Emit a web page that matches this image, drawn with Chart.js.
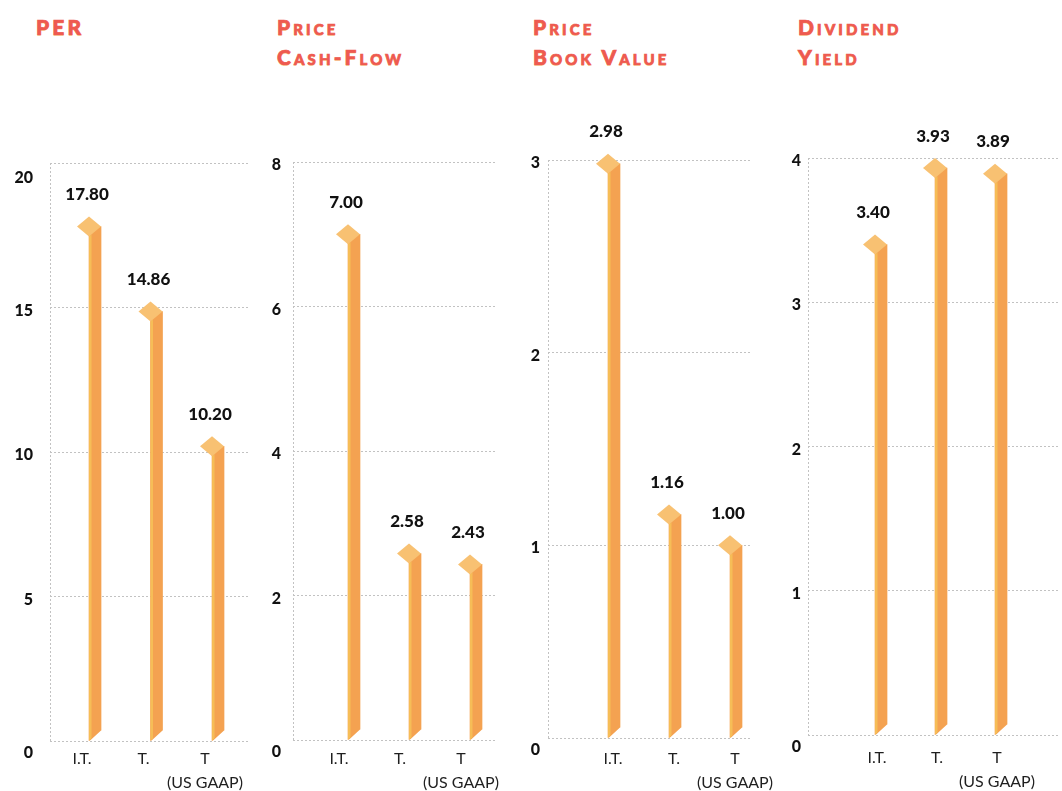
<!DOCTYPE html>
<html>
<head>
<meta charset="utf-8">
<script src="https://cdn.jsdelivr.net/npm/chart.js@4.4.1/dist/chart.umd.min.js"></script>
<style>
  html, body { margin: 0; padding: 0; background: #ffffff; }
  #wrap { position: relative; width: 1062px; height: 791px; overflow: hidden; background: #ffffff; }
  #wrap canvas { position: absolute; top: 0; }
  .title {
    position: absolute; top: 12px;
    font-family: Lato, "Open Sans", sans-serif; font-weight: 900;
    font-size: 21px; line-height: 30px; letter-spacing: 3.1px;
    font-variant: small-caps; color: #ee5a50;
    -webkit-text-stroke: 0.7px #ee5a50;
    text-shadow: 0 1px 0 rgba(247, 196, 90, 0.55);
    white-space: nowrap;
  }
</style>
</head>
<body>
<div id="wrap">
  <div class="title" style="left:36px">PER</div>
  <div class="title" style="left:277px">Price<br>Cash-Flow</div>
  <div class="title" style="left:533px">Price<br>Book Value</div>
  <div class="title" style="left:798px">Dividend<br>Yield</div>
  <canvas id="perChart" width="262" height="791" style="left:0px"></canvas>
  <canvas id="cashFlowChart" width="250" height="791" style="left:262px"></canvas>
  <canvas id="bookValueChart" width="280" height="791" style="left:512px"></canvas>
  <canvas id="yieldChart" width="300" height="791" style="left:762px"></canvas>
</div>
<script>
// Companies compared in every panel
const categories = ['I.T.', 'T.', ['T', '(US GAAP)']];

// Ratios per company
const perValues = [17.80, 14.86, 10.20];
const priceCashFlowValues = [7.00, 2.58, 2.43];
const priceBookValues = [2.98, 1.16, 1.00];
const dividendYieldValues = [3.40, 3.93, 3.89];

// Value-axis tick labels per panel
const perTicks = [0, 5, 10, 15, 20];
const priceCashFlowTicks = [0, 2, 4, 6, 8];
const priceBookTicks = [0, 1, 2, 3];
const dividendYieldTicks = [0, 1, 2, 3, 4];

const FONT = 'Lato, "Open Sans", sans-serif';
const BODY = '#f4a251';
const EDGE = '#f6bd57';
const TOP = '#f8c172';
const GRID = '#c2c2c2';
const HALF_W = 12;   // half width of the diamond cap
const HALF_H = 10;   // half height of the diamond cap
const RISE = 10;     // slant of the ribbon body

// Draws each bar as a slanted ribbon with a diamond cap and its value above
const ribbonBars = {
  id: 'ribbonBars',
  beforeDatasetsDraw(chart) {
    const ctx = chart.ctx;
    ctx.save();
    ctx.beginPath();
    ctx.rect(0, 0, chart.width, chart.height);
    chart.getDatasetMeta(0).data.forEach(bar => {
      const xl = bar.x - bar.width / 2, xr = bar.x + bar.width / 2;
      ctx.moveTo(xl, bar.base + 1);
      ctx.lineTo(xr + 1, bar.base + 1);
      ctx.lineTo(xr + 1, bar.base - RISE);
      ctx.lineTo(xr, bar.base - RISE);
      ctx.closePath();
    });
    ctx.clip('evenodd');
  },
  afterDatasetsDraw(chart) {
    const ctx = chart.ctx;
    ctx.restore();
    const values = chart.data.datasets[0].data;
    chart.getDatasetMeta(0).data.forEach((bar, i) => {
      const xl = bar.x - bar.width / 2;
      const cy = bar.y;
      const strip = 2.5;
      const dy = RISE * strip / bar.width;
      ctx.save();
      // lit front edge of the ribbon
      ctx.fillStyle = EDGE;
      ctx.beginPath();
      ctx.moveTo(xl, cy + HALF_H);
      ctx.lineTo(xl + strip, cy + HALF_H - dy);
      ctx.lineTo(xl + strip, bar.base - dy);
      ctx.lineTo(xl, bar.base);
      ctx.closePath();
      ctx.fill();
      // diamond cap
      ctx.fillStyle = TOP;
      ctx.beginPath();
      ctx.moveTo(xl - HALF_W, cy);
      ctx.lineTo(xl, cy - HALF_H);
      ctx.lineTo(xl + HALF_W, cy);
      ctx.lineTo(xl, cy + HALF_H);
      ctx.closePath();
      ctx.fill();
      // value label
      ctx.fillStyle = '#111111';
      ctx.font = '900 17px ' + FONT;
      ctx.textAlign = 'center';
      ctx.textBaseline = 'middle';
      ctx.fillText(values[i].y.toFixed(2), xl - 2, cy - 32);
      ctx.restore();
    });
  }
};

function makePanel(canvasId, values, ticks, p) {
  const yMax = ticks[ticks.length - 1];
  new Chart(document.getElementById(canvasId), {
    type: 'bar',
    data: {
      datasets: [{
        data: values.map((v, i) => ({ x: i + 1, y: v })),
        backgroundColor: BODY,
        borderWidth: 0,
        barThickness: 12
      }]
    },
    options: {
      responsive: false,
      animation: false,
      devicePixelRatio: 1,
      events: [],
      layout: { padding: { top: p.top, right: p.right, left: 0, bottom: 0 } },
      plugins: { legend: { display: false }, tooltip: { enabled: false } },
      scales: {
        x: {
          type: 'linear',
          offset: false,
          min: p.xMin,
          max: p.xMax,
          afterBuildTicks(axis) {
            axis.ticks = [{ value: p.xMin }].concat(categories.map((c, i) => ({ value: i + 1 })));
          },
          afterFit(axis) {
            axis.height = 791 - p.bottom;
            axis.paddingLeft = 0;
            axis.paddingRight = 0;
          },
          grid: {
            offset: false,
            drawTicks: false,
            color: ctx => (ctx.tick && ctx.tick.value === p.xMin) ? GRID : 'rgba(0,0,0,0)'
          },
          border: { display: false, dash: [2, 2] },
          ticks: {
            autoSkip: false,
            maxRotation: 0,
            padding: p.xPad,
            labelOffset: p.labelOffset,
            color: '#1f1f1f',
            font: { family: FONT, size: 16, lineHeight: '24px' },
            callback: v => (Number.isInteger(v) && v >= 1 && v <= categories.length) ? categories[v - 1] : ''
          }
        },
        y: {
          min: 0,
          max: yMax,
          afterBuildTicks(axis) { axis.ticks = ticks.map(v => ({ value: v })); },
          afterFit(axis) {
            axis.width = p.yWidth;
            axis.paddingTop = 0;
            axis.paddingBottom = 0;
          },
          grid: { drawTicks: false, color: GRID },
          border: { display: false, dash: [2, 2] },
          ticks: {
            padding: p.yPad,
            labelOffset: 3,
            color: '#111111',
            font: ctx => {
              const v = ctx.tick ? ctx.tick.value : null;
              const s = v === 0 ? p.zeroShift : (v === yMax ? p.topShift : 0);
              return { family: FONT, size: 16, weight: '900', lineHeight: s ? (2 * s) + 'px' : 1.2 };
            },
            callback: v => {
              const s = v === 0 ? p.zeroShift : (v === yMax ? p.topShift : 0);
              return s ? ['', String(v)] : String(v);
            }
          }
        }
      }
    },
    plugins: [ribbonBars]
  });
}

makePanel('perChart', perValues, perTicks, {
  top: 163, bottom: 741, right: 12, yWidth: 50, yPad: 17,
  xMin: 0.268, xMax: 3.52, labelOffset: -13, xPad: 6, topShift: 12, zeroShift: 9
});
makePanel('cashFlowChart', priceCashFlowValues, priceCashFlowTicks, {
  top: 162, bottom: 740, right: 15, yWidth: 31, yPad: 12,
  xMin: 0.0, xMax: 3.344, labelOffset: -15, xPad: 7, topShift: 0, zeroShift: 9
});
makePanel('bookValueChart', priceBookValues, priceBookTicks, {
  top: 160, bottom: 738, right: 40, yWidth: 36, yPad: 8,
  xMin: -0.082, xMax: 3.262, labelOffset: -1, xPad: 9, topShift: 0, zeroShift: 9
});
makePanel('yieldChart', dividendYieldValues, dividendYieldTicks, {
  top: 158, bottom: 735, right: 2, yWidth: 46, yPad: 7,
  xMin: -0.217, xMax: 3.983, labelOffset: -4, xPad: 11, topShift: 0, zeroShift: 9
});
</script>
</body>
</html>
